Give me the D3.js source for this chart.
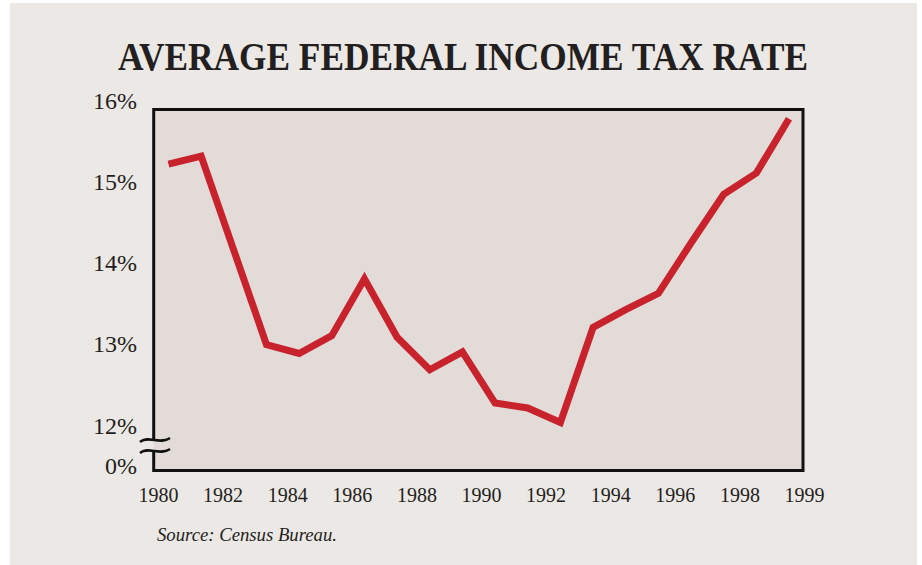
<!DOCTYPE html>
<html>
<head>
<meta charset="utf-8">
<script src="https://cdn.jsdelivr.net/npm/d3@7"></script>
<style>
  html, body { margin: 0; padding: 0; background: #ffffff; }
  svg { display: block; }
  text { font-family: "Liberation Serif", "Times New Roman", Times, serif; fill: #231f20; }
</style>
</head>
<body>
<svg id="chart" width="922" height="565"></svg>
<script>
// Average federal income tax rate, percent, 1980-1999
const years = [1980, 1981, 1982, 1983, 1984, 1985, 1986, 1987, 1988, 1989,
               1990, 1991, 1992, 1993, 1994, 1995, 1996, 1997, 1998, 1999];
const rates = [15.21, 15.31, 14.15, 12.99, 12.88, 13.10, 13.80, 13.08, 12.68, 12.90,
               12.27, 12.21, 12.03, 13.20, 13.42, 13.62, 14.24, 14.84, 15.10, 15.77];

// Axis labels
const xTickLabels = ["1980", "1982", "1984", "1986", "1988", "1990",
                     "1992", "1994", "1996", "1998", "1999"];
const yTickValues = [16, 15, 14, 13, 12];
const zeroLabel = "0%";

const titleText = "AVERAGE FEDERAL INCOME TAX RATE";
const sourceText = "Source: Census Bureau.";

const svg = d3.select("#chart");
const serif = "'Liberation Serif', 'Times New Roman', Times, serif";

// Frame of the plotting area
const frame = { left: 153.7, right: 803, top: 109.5, bottom: 470.5 };

// Scales
const x = d3.scaleLinear().domain([1980, 1999]).range([168.5, 789]);
const y = d3.scaleLinear().domain([12, 16]).range([425, 100]);
// The broken axis shows 0% half a step below 12%
const zeroPos = y(11.5);
const xLabelScale = d3.scalePoint().domain(xTickLabels).range([158, 804]);

// Page background
svg.append("rect").attr("x", 10).attr("y", 3).attr("width", 907).attr("height", 562)
  .attr("fill", "#ece8e5");

// Title
svg.append("text")
  .attr("x", 463).attr("y", 70)
  .attr("text-anchor", "middle")
  .attr("font-size", 40).attr("font-weight", "bold")
  .attr("textLength", 690).attr("lengthAdjust", "spacingAndGlyphs")
  .text(titleText);

// Plot area fill
svg.append("rect")
  .attr("x", frame.left).attr("y", frame.top)
  .attr("width", frame.right - frame.left).attr("height", frame.bottom - frame.top)
  .attr("fill", "#e2dbd8");

// Frame with a break on the left edge
const gapTop = 439, gapBottom = 451;
const framePath = d3.path();
framePath.moveTo(frame.left, gapTop);
framePath.lineTo(frame.left, frame.top);
framePath.lineTo(frame.right, frame.top);
framePath.lineTo(frame.right, frame.bottom);
framePath.lineTo(frame.left, frame.bottom);
framePath.lineTo(frame.left, gapBottom);
svg.append("path").attr("d", framePath.toString())
  .attr("fill", "none").attr("stroke", "#111111").attr("stroke-width", 3)
  .attr("stroke-linejoin", "miter");

// Axis break marks
[440, 451].forEach(cy => {
  const p = d3.path();
  p.moveTo(140, cy + 2);
  p.bezierCurveTo(148, cy - 5, 160, cy + 5, 170, cy - 2);
  svg.append("path").attr("d", p.toString())
    .attr("fill", "none").attr("stroke", "#111111").attr("stroke-width", 2.6);
});

// Y axis labels
const yAxis = d3.axisLeft(y).tickValues(yTickValues).tickSize(0).tickPadding(0)
  .tickFormat(d => d + "%");
const gy = svg.append("g").attr("transform", "translate(137,0)").call(yAxis);
gy.select(".domain").remove();
gy.selectAll("text")
  .attr("font-size", 24).attr("fill", "#231f20").attr("font-family", serif)
  .attr("x", 0).attr("dy", "0.34em");
gy.append("text")
  .attr("x", 0).attr("y", zeroPos).attr("dy", "0.34em")
  .attr("text-anchor", "end").attr("font-size", 24).attr("fill", "#231f20")
  .attr("font-family", serif)
  .text(zeroLabel);

// X axis labels
const xAxis = d3.axisBottom(xLabelScale).tickSize(0).tickPadding(0);
const gx = svg.append("g").attr("transform", "translate(0,488)").call(xAxis);
gx.select(".domain").remove();
gx.selectAll("text")
  .attr("font-size", 20).attr("fill", "#231f20").attr("font-family", serif)
  .attr("dy", "0.71em");

// Data line
const line = d3.line().x((d, i) => x(years[i])).y(d => y(d));
svg.append("path")
  .datum(rates)
  .attr("d", line)
  .attr("fill", "none")
  .attr("stroke", "#c8222d")
  .attr("stroke-width", 7)
  .attr("stroke-linejoin", "miter")
  .attr("stroke-linecap", "butt");

// Source note
svg.append("text")
  .attr("x", 157).attr("y", 541)
  .attr("font-size", 19).attr("font-style", "italic")
  .attr("textLength", 180).attr("lengthAdjust", "spacingAndGlyphs")
  .text(sourceText);
</script>
</body>
</html>
